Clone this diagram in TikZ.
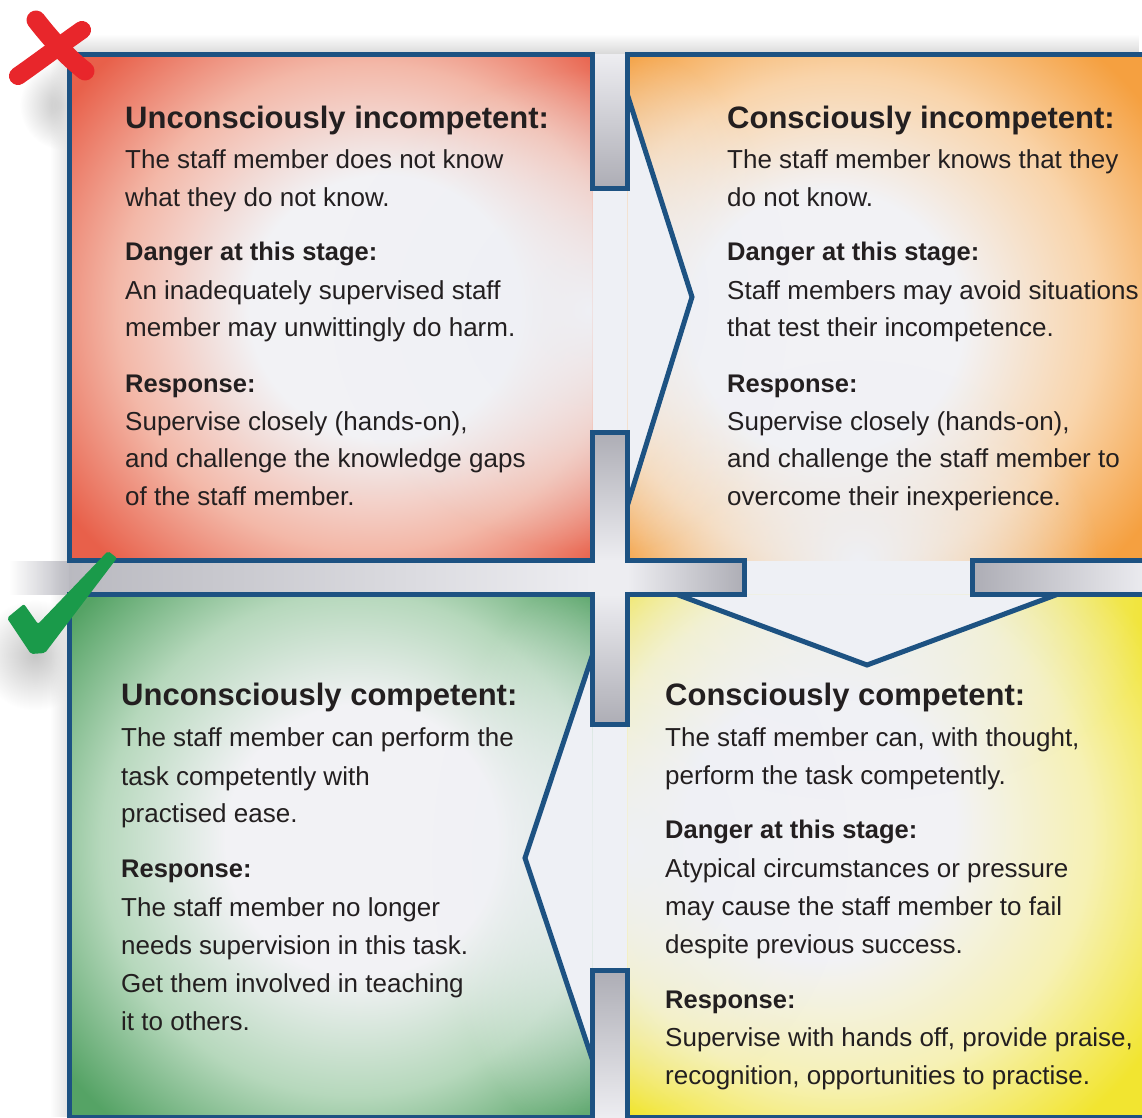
\documentclass[tikz,border=0pt]{standalone}
\usepackage{fontspec}
\setmainfont{Liberation Sans}
\usetikzlibrary{fadings}
\definecolor{bordc}{HTML}{1D5282}
\definecolor{pbg}{HTML}{F2F2F5}
\definecolor{arrowbg}{HTML}{EEF0F5}
\definecolor{chdark}{HTML}{ADADB5}
\definecolor{chlight}{HTML}{EDEDF1}
\definecolor{txt}{HTML}{231F20}
\definecolor{tlcol}{HTML}{E8604A}
\definecolor{tlmid}{HTML}{F3B8A8}
\definecolor{trcol}{HTML}{F5A040}
\definecolor{trmid}{HTML}{F9D4AA}
\definecolor{blcol}{HTML}{55A365}
\definecolor{blmid}{HTML}{B6D8BC}
\definecolor{brcol}{HTML}{F2E530}
\definecolor{brmid}{HTML}{F6F1B4}
\definecolor{xred}{HTML}{E8262B}
\definecolor{ckgreen}{HTML}{1A9A4A}
\pgfdeclareradialshading{tlshade}{\pgfpoint{7bp}{0bp}}{color(0bp)=(pbg); color(13bp)=(pbg); color(24bp)=(tlmid); color(34bp)=(tlcol); color(50bp)=(tlcol)}
\pgfdeclareradialshading{trshade}{\pgfpoint{-8bp}{-2bp}}{color(0bp)=(pbg); color(13bp)=(pbg); color(24bp)=(trmid); color(34bp)=(trcol); color(50bp)=(trcol)}
\pgfdeclareradialshading{blshade}{\pgfpoint{4bp}{2bp}}{color(0bp)=(pbg); color(13bp)=(pbg); color(24bp)=(blmid); color(34bp)=(blcol); color(50bp)=(blcol)}
\pgfdeclareradialshading{brshade}{\pgfpoint{-9bp}{4bp}}{color(0bp)=(pbg); color(13bp)=(pbg); color(24bp)=(brmid); color(34bp)=(brcol); color(50bp)=(brcol)}
\tikzfading[name=softspot, inner color=transparent!0, outer color=transparent!100]
\tikzfading[name=fadeupx, top color=transparent!100, bottom color=transparent!0]
\tikzfading[name=fadeleftx, left color=transparent!100, right color=transparent!0]
\begin{document}
\begin{tikzpicture}[x=1pt,y=-1pt,
  bord/.style={draw=bordc, line width=5pt, line join=miter},
  headtxt/.style={anchor=base west, inner sep=0pt, text=txt, font=\fontsize{31}{36}\selectfont\bfseries},
  subtxt/.style={anchor=base west, inner sep=0pt, text=txt, font=\fontsize{25.5}{30}\selectfont\bfseries},
  bodytxt/.style={anchor=base west, inner sep=0pt, text=txt, font=\fontsize{26}{30}\selectfont}]
\useasboundingbox (0,0) rectangle (1142,1117);
\fill[white] (0,0) rectangle (1142,1117);
% shadows
\fill[gray!50, path fading=softspot] (20,60) rectangle (110,150);
\fill[gray!45, path fading=softspot] (-20,600) rectangle (90,710);
\fill[gray!30, path fading=fadeupx] (69,34) rectangle (1142,54);
\fill[gray!22, path fading=fadeleftx] (50,54) rectangle (69,1117);
\fill[chdark!80, path fading=fadeleftx] (10,560.5) rectangle (69,594.5);
% base
\fill[arrowbg] (69,54) rectangle (1150,1120);
% panels
\shade[shading=tlshade] (69,54) rectangle (592.5,560.5);
\shade[shading=trshade] (627.5,54) rectangle (1150,560.5);
\shade[shading=blshade] (69,594.5) rectangle (592.5,1117);
\shade[shading=brshade] (627.5,594.5) rectangle (1150,1117);
% arrow-body lightening
\begin{scope}
\clip (69,54) rectangle (592.5,560.5);
\fill[arrowbg, path fading=softspot] (332,70) rectangle (852,550);
\end{scope}
\begin{scope}
\clip (627.5,54) rectangle (1150,560.5);
\fill[arrowbg, path fading=softspot] (618,360) rectangle (1098,760);
\fill[arrowbg, path fading=softspot] (468,50) rectangle (788,550);
\end{scope}
\begin{scope}
\clip (627.5,594.5) rectangle (1150,1117);
\fill[arrowbg, path fading=softspot] (408,590) rectangle (848,1110);
\fill[arrowbg, path fading=softspot] (560,400) rectangle (1160,800);
\end{scope}
\begin{scope}
\clip (69,594.5) rectangle (592.5,1117);
\fill[arrowbg, path fading=softspot] (432,580) rectangle (752,1140);
\end{scope}
% channels
\shade[top color=chlight, bottom color=chdark] (592.5,54) rectangle (627.5,188);
\shade[top color=chdark, bottom color=chlight] (592.5,432.5) rectangle (627.5,560.5);
\fill[chlight] (592.5,560.5) rectangle (627.5,594.5);
\shade[top color=chlight, bottom color=chdark] (592.5,594.5) rectangle (627.5,724.5);
\shade[top color=chdark, bottom color=chlight] (592.5,970.5) rectangle (627.5,1117);
\shade[left color=chdark!85, right color=chlight] (69,560.5) rectangle (592.5,594.5);
\shade[left color=chlight, right color=chdark] (627.5,560.5) rectangle (744.5,594.5);
\shade[left color=chdark, right color=chlight] (972.5,560.5) rectangle (1150,594.5);
% arrow heads
\fill[arrowbg] (627.5,95) -- (692,297) -- (627.5,505) -- cycle;
\fill[arrowbg] (677,594.5) -- (867,665) -- (1057,594.5) -- cycle;
\fill[arrowbg] (592.5,655) -- (525,858) -- (592.5,1060) -- cycle;
% borders
\draw[bord] (1150,54) -- (627.5,54) -- (627.5,188) -- (592.5,188) -- (592.5,54) -- (69,54) -- (69,560.5) -- (592.5,560.5) -- (592.5,432.5) -- (627.5,432.5) -- (627.5,560.5) -- (744.5,560.5) -- (744.5,594.5) -- (627.5,594.5) -- (627.5,724.5) -- (592.5,724.5) -- (592.5,594.5) -- (69,594.5) -- (69,1117) -- (592.5,1117) -- (592.5,970.5) -- (627.5,970.5) -- (627.5,1117) -- (1150,1117);
\draw[bord] (1150,560.5) -- (972.5,560.5) -- (972.5,594.5) -- (1150,594.5);
\draw[bord] (627.5,95) -- (692,297) -- (627.5,505);
\draw[bord] (677,594.5) -- (867,665) -- (1057,594.5);
\draw[bord] (592.5,655) -- (525,858) -- (592.5,1060);
% text TL
\node[headtxt] (tlh) at (125,128) {Unconsciously incompetent:};
\node[bodytxt] (tl1) at (125,168) {The staff member does not know};
\node[bodytxt] (tl2) at (125,206) {what they do not know.};
\node[subtxt] (tls1) at (125,260) {Danger at this stage:};
\node[bodytxt] (tl3) at (125,299) {An inadequately supervised staff};
\node[bodytxt] (tl4) at (125,336) {member may unwittingly do harm.};
\node[subtxt] (tls2) at (125,392) {Response:};
\node[bodytxt] (tl5) at (125,430) {Supervise closely (hands-on),};
\node[bodytxt] (tl6) at (125,467) {and challenge the knowledge gaps};
\node[bodytxt] (tl7) at (125,505) {of the staff member.};
% text TR
\node[headtxt] (trh) at (727,128) {Consciously incompetent:};
\node[bodytxt] (tr1) at (727,168) {The staff member knows that they};
\node[bodytxt] (tr2) at (727,206) {do not know.};
\node[subtxt] (trs1) at (727,260) {Danger at this stage:};
\node[bodytxt] (tr3) at (727,299) {Staff members may avoid situations};
\node[bodytxt] (tr4) at (727,336) {that test their incompetence.};
\node[subtxt] (trs2) at (727,392) {Response:};
\node[bodytxt] (tr5) at (727,430) {Supervise closely (hands-on),};
\node[bodytxt] (tr6) at (727,467) {and challenge the staff member to};
\node[bodytxt] (tr7) at (727,505) {overcome their inexperience.};
% text BL
\node[headtxt] (blh) at (121,705) {Unconsciously competent:};
\node[bodytxt] (bl1) at (121,746) {The staff member can perform the};
\node[bodytxt] (bl2) at (121,785) {task competently with};
\node[bodytxt] (bl3) at (121,822) {practised ease.};
\node[subtxt] (bls1) at (121,877) {Response:};
\node[bodytxt] (bl4) at (121,916) {The staff member no longer};
\node[bodytxt] (bl5) at (121,954) {needs supervision in this task.};
\node[bodytxt] (bl6) at (121,992) {Get them involved in teaching};
\node[bodytxt] (bl7) at (121,1030) {it to others.};
% text BR
\node[headtxt] (brh) at (665,705) {Consciously competent:};
\node[bodytxt] (br1) at (665,746) {The staff member can, with thought,};
\node[bodytxt] (br2) at (665,784) {perform the task competently.};
\node[subtxt] (brs1) at (665,838) {Danger at this stage:};
\node[bodytxt] (br3) at (665,877) {Atypical circumstances or pressure};
\node[bodytxt] (br4) at (665,915) {may cause the staff member to fail};
\node[bodytxt] (br5) at (665,953) {despite previous success.};
\node[subtxt] (brs2) at (665,1008) {Response:};
\node[bodytxt] (br6) at (665,1046) {Supervise with hands off, provide praise,};
\node[bodytxt] (br7) at (665,1084) {recognition, opportunities to practise.};
% red cross
\draw[xred, line width=19pt, line cap=round] (36,20) .. controls (50,38) and (66,56) .. (85,71);
\draw[xred, line width=18pt, line cap=round] (82,30) .. controls (62,44) and (38,62) .. (18,76);
% green tick
\fill[ckgreen, rounded corners=2pt] (7,618) -- (24,604) -- (38,624) -- (108,551) -- (117,558) -- (45,653) -- (31,654) -- cycle;
\end{tikzpicture}
\end{document}
